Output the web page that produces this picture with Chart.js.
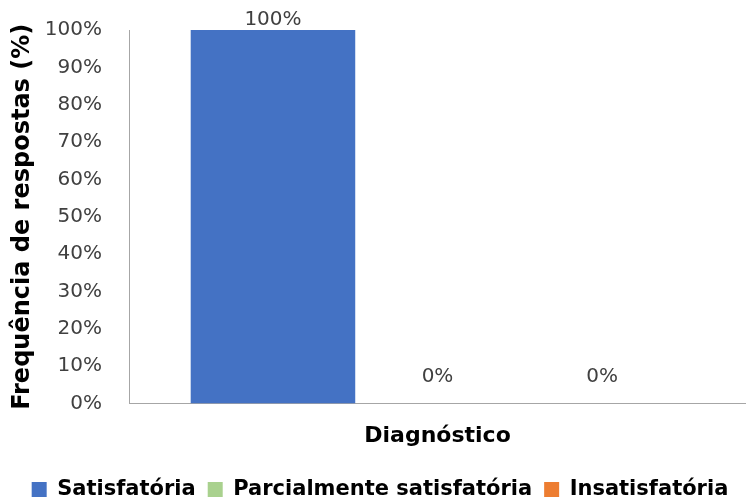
<!DOCTYPE html>
<html><head><meta charset="utf-8">
<script src="https://cdn.jsdelivr.net/npm/chart.js@4"></script>
<style>html,body{margin:0;padding:0;background:#fff}#wrap{width:746px;height:499px}</style>
</head><body><div id="wrap"><canvas id="c" width="746" height="499"></canvas></div>
<script>
const categories = ['Diagnóstico'];
const seriesNames = ['Satisfatória', 'Parcialmente satisfatória', 'Insatisfatória'];
const satisfatoria = [100];
const parcialmente = [0];
const insatisfatoria = [0];
const yTicks = [0,10,20,30,40,50,60,70,80,90,100];
const colors = ['#4472C4', '#A9D18E', '#ED7D31'];

const fam = '"DejaVu Sans", Verdana, sans-serif';

const labelPlugin = {
  id: 'vlabels',
  afterDatasetsDraw(chart) {
    const ctx = chart.ctx;
    ctx.save();
    ctx.font = '20px ' + fam;
    ctx.fillStyle = '#404040';
    ctx.textAlign = 'center';
    ctx.textBaseline = 'middle';
    chart.data.datasets.forEach((ds, i) => {
      chart.getDatasetMeta(i).data.forEach((bar, j) => {
        let y = bar.y - 27;
        if (y < 20) y = 20;
        ctx.fillText(ds.data[j] + '%', bar.x, y);
      });
    });
    ctx.restore();
  }
};

new Chart(document.getElementById('c'), {
  type: 'bar',
  data: {
    labels: categories,
    datasets: [
      { label: seriesNames[0], data: satisfatoria, backgroundColor: colors[0] },
      { label: seriesNames[1], data: parcialmente, backgroundColor: colors[1] },
      { label: seriesNames[2], data: insatisfatoria, backgroundColor: colors[2] }
    ]
  },
  options: {
    responsive: false,
    animation: false,
    layout: { padding: { top: 30, right: -10, left: 4, bottom: -11 } },
    datasets: { bar: { categoryPercentage: 0.80, barPercentage: 1.0 } },
    plugins: {
      legend: {
        position: 'bottom',
        labels: {
          boxWidth: 15, boxHeight: 15, padding: 12,
          color: '#000',
          font: { family: fam, size: 21, weight: 'bold' }
        }
      },
      tooltip: { enabled: false }
    },
    scales: {
      x: {
        grid: { display: false, drawTicks: false },
        border: { color: '#A6A6A6', width: 1 },
        ticks: { display: false },
        title: {
          display: true, text: categories[0], color: '#000',
          font: { family: fam, size: 22, weight: 'bold' },
          padding: { top: 19, bottom: 18 }
        }
      },
      y: {
        min: 0, max: 100,
        afterBuildTicks(scale) { scale.ticks = yTicks.map(v => ({ value: v })); },
        afterFit(scale) { scale.width = 125; scale.paddingTop = 0; scale.paddingBottom = 0; },
        grid: { display: false, drawTicks: false },
        border: { color: '#A6A6A6', width: 1 },
        ticks: {
          color: '#404040', padding: 27,
          font: { family: fam, size: 20 },
          callback: v => v + '%'
        },
        title: {
          display: true, text: 'Frequência de respostas (%)', color: '#000',
          font: { family: fam, size: 24, weight: 'bold' },
          padding: { top: 4, bottom: 8 }
        }
      }
    }
  },
  plugins: [labelPlugin]
});
</script></body></html>
